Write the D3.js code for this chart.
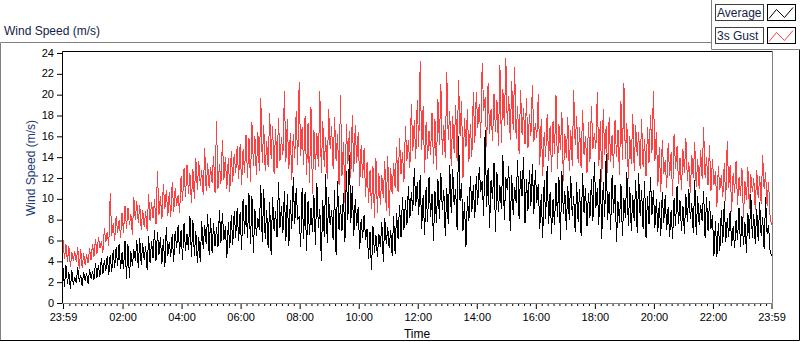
<!DOCTYPE html>
<html lang="en">
<head>
<meta charset="UTF-8">
<title>Wind Speed</title>
<script src="https://d3js.org/d3.v7.min.js"></script>
<style>
body { margin: 0; background: #fff; }
text { font-family: "Liberation Sans", Arial, sans-serif; }
</style>
</head>
<body>
<div id="chart"></div>
<script>
// one sample every 3 minutes, from 23:59 to 23:59 the next day (one row = 2 hours)
var stepMinutes = 3;

var average = [
  3.3,1.5, 3.6,1.8, 2.9,1.3, 3.1,1.7, 2.4,1.9, 3.4,2.0, 2.6,1.6, 2.9,2.1, 2.8,1.8, 3.2,2.3, 3.0,2.2, 3.8,2.4, 3.6,2.5, 4.3,2.7, 4.1,3.0, 4.5,2.6, 4.6,2.9, 5.0,3.3, 5.3,3.5, 5.6,3.2,
  4.8,3.2, 5.9,2.3, 5.6,2.4, 4.9,3.5, 5.1,4.0, 6.0,3.3, 6.2,3.6, 5.7,4.1, 5.4,3.1, 6.4,3.8, 5.9,4.3, 7.0,4.0, 6.8,4.6, 6.3,3.7, 6.1,3.4, 7.2,4.5, 5.8,4.4, 6.6,3.9, 6.9,5.2, 7.4,4.7,
  7.0,4.1, 7.6,4.9, 6.6,5.0, 8.3,4.4, 7.9,4.5, 6.9,3.8, 6.3,3.9, 7.8,5.1, 7.4,5.6, 8.5,4.6, 8.1,4.8, 7.6,5.4, 7.2,5.3, 8.9,5.7, 8.6,6.0, 7.3,4.3, 7.7,5.2, 8.4,5.5, 8.8,6.2, 9.1,5.9,
  8.7,5.0, 9.9,6.6, 9.4,6.2, 10.5,5.6, 10.2,4.8, 9.0,6.4, 8.1,7.0, 11.3,5.8, 10.9,6.1, 8.9,5.2, 9.6,4.6, 10.1,6.9, 8.8,6.3, 11.6,7.2, 9.3,6.7, 10.7,5.9, 10.4,5.4, 9.8,7.1, 12.0,7.5, 11.0,8.0,
  8.2,5.3, 11.0,6.1, 10.6,4.9, 9.7,6.5, 9.1,6.8, 10.3,5.5, 11.5,7.2, 9.0,4.0, 9.8,6.3, 12.3,5.7, 10.1,7.4, 8.9,6.0, 10.8,4.6, 11.7,7.0, 9.4,6.9, 10.5,5.8, 12.6,7.9, 14.2,7.6, 11.2,6.4, 9.9,7.3,
  9.2,5.1, 8.0,6.2, 8.4,6.0, 7.1,4.2, 6.8,3.1, 7.3,4.8, 6.5,4.4, 6.6,5.3, 7.7,3.9, 8.1,5.6, 7.2,5.2, 7.0,4.5, 8.3,4.7, 8.6,6.1, 9.4,6.3, 10.1,7.0, 9.8,7.4, 11.2,8.1, 10.6,8.8, 12.9,9.3,
  11.6,8.4, 12.2,7.1, 10.3,6.5, 11.1,7.7, 12.0,8.2, 10.4,5.9, 10.7,7.6, 11.9,8.0, 12.4,8.9, 10.8,6.4, 11.0,7.5, 13.2,8.6, 12.8,9.4, 10.9,7.0, 16.0,9.7, 11.5,6.9, 9.6,5.3, 10.2,7.8, 12.1,8.7, 11.3,8.1,
  12.1,9.4, 13.0,10.6, 11.7,8.3, 16.6,9.2, 12.9,7.2, 11.8,9.9, 13.4,6.8, 12.5,8.7, 11.3,9.0, 14.2,7.9, 12.0,10.8, 13.1,6.9, 12.2,8.4, 11.1,9.6, 13.7,8.0, 12.6,10.2, 14.0,7.6, 11.9,8.8, 12.7,9.3, 13.3,8.5,
  12.7,9.6, 11.4,7.1, 10.4,6.2, 11.8,8.0, 13.1,7.5, 10.6,6.6, 9.9,7.4, 11.5,8.2, 12.0,6.0, 12.6,8.5, 10.7,7.0, 11.2,7.9, 12.1,8.3, 10.2,6.8, 11.6,7.7, 10.9,6.4, 12.4,8.6, 11.0,7.3, 10.5,8.1, 11.9,7.8,
  13.5,9.1, 11.0,7.4, 12.8,6.1, 11.6,8.2, 14.3,7.9, 10.6,7.0, 12.2,8.6, 11.3,5.8, 9.7,7.6, 11.4,6.4, 10.0,8.1, 12.5,7.3, 11.1,6.9, 10.3,7.8, 11.8,6.7, 12.4,8.3, 10.8,7.1, 11.7,6.2, 10.2,7.5, 12.0,8.4,
  10.8,7.2, 9.9,6.8, 9.6,6.4, 10.6,7.6, 10.3,7.0, 9.2,6.3, 8.9,6.1, 10.0,7.3, 11.2,7.5, 9.8,6.9, 9.3,6.6, 10.4,7.7, 10.9,8.0, 9.5,6.7, 11.8,6.5, 10.2,7.4, 9.4,7.8, 10.7,6.2, 10.1,6.9, 9.7,7.1,
  8.4,4.5, 7.8,4.4, 7.6,4.9, 8.9,5.7, 9.7,5.8, 8.1,6.3, 8.8,5.4, 7.3,5.2, 7.9,6.0, 9.1,5.3, 8.3,5.5, 7.7,4.8, 8.6,6.1, 10.4,6.2, 8.5,5.6, 9.0,5.9, 9.6,6.4, 8.2,5.1, 10.1,6.6, 7.4,5.0,
  4.5
];

var gust = [
  6.0,4.2, 5.6,3.9, 5.4,3.4, 4.8,4.0, 4.9,3.9, 5.3,3.2, 5.1,3.3, 4.7,3.6, 4.6,3.8, 5.2,4.1, 5.6,4.4, 6.1,4.7, 6.3,5.2, 5.9,4.8, 7.1,5.8, 6.8,5.4, 10.5,6.4, 7.6,5.9, 8.3,6.7, 7.9,6.2,
  8.6,6.7, 9.3,7.1, 9.1,7.4, 8.5,6.5, 10.1,7.9, 9.7,7.6, 9.4,7.0, 8.9,7.3, 8.8,6.9, 10.4,7.8, 9.6,8.1, 9.9,7.5, 12.6,8.4, 10.2,8.0, 11.4,9.0, 10.8,8.3, 10.6,8.2, 11.6,8.7, 11.0,9.3, 10.3,8.6,
  12.1,9.7, 12.9,10.1, 13.2,10.4, 12.4,9.6, 12.8,9.9, 13.9,10.8, 13.6,11.2, 12.7,10.3, 14.8,10.7, 13.4,11.0, 13.0,11.5, 14.1,10.5, 17.4,10.9, 13.3,11.4, 15.6,11.8, 14.0,10.9, 13.9,10.6, 14.5,11.6, 14.3,12.4, 15.0,11.9,
  15.2,11.3, 14.7,12.4, 16.1,12.0, 15.8,11.6, 17.3,13.1, 16.0,12.2, 16.4,12.6, 19.6,13.4, 17.0,12.6, 15.5,13.0, 18.2,13.8, 16.9,12.3, 16.7,12.9, 17.7,13.6, 15.9,14.2, 20.3,13.5, 17.6,12.8, 16.3,11.8, 16.2,13.9, 18.4,13.2,
  21.2,14.1, 16.8,13.2, 17.9,12.2, 17.2,11.5, 18.8,10.4, 16.6,12.7, 16.3,13.0, 20.3,12.4, 17.4,13.0, 15.9,11.9, 18.6,14.7, 16.9,12.8, 17.8,13.6, 16.2,11.3, 19.9,12.1, 15.4,9.6, 17.1,13.3, 16.5,12.0, 18.0,12.5, 17.0,13.4,
  16.4,11.2, 15.1,12.0, 14.8,10.1, 13.5,9.6, 12.7,9.0, 13.1,8.1, 13.9,8.6, 12.4,9.4, 12.2,10.0, 13.6,8.8, 14.1,8.3, 12.9,10.4, 13.4,11.0, 14.9,10.6, 15.8,12.3, 14.4,11.6, 16.9,13.6, 15.6,12.9, 19.1,14.5, 17.5,13.8,
  19.4,14.9, 23.2,14.6, 18.9,12.4, 17.3,13.8, 16.5,14.2, 18.2,13.3, 17.6,12.7, 19.5,15.1, 21.0,14.2, 17.0,13.9, 22.1,15.6, 18.4,13.1, 17.9,14.4, 19.0,13.6, 21.4,16.0, 19.3,12.0, 17.7,14.9, 18.6,13.5, 17.1,14.0, 20.2,15.3,
  20.2,16.8, 19.1,15.8, 23.0,18.4, 19.7,14.9, 21.1,16.2, 18.6,15.5, 20.0,16.4, 19.4,15.0, 22.8,15.3, 20.5,16.9, 23.5,17.0, 19.8,15.6, 21.3,16.6, 22.6,15.7, 18.9,14.3, 20.4,16.1, 18.7,15.2, 19.6,14.8, 18.1,16.0, 20.9,15.4,
  17.2,15.8, 20.0,13.2, 17.6,12.1, 16.4,14.0, 18.1,13.6, 16.9,12.5, 17.4,14.3, 19.9,12.8, 17.1,14.6, 18.3,11.7, 16.2,13.9, 17.8,12.6, 16.6,13.1, 20.4,15.1, 17.9,13.4, 16.8,12.9, 18.5,14.2, 16.0,12.4, 17.3,13.5, 18.9,14.7,
  16.3,14.7, 20.2,13.1, 17.4,11.6, 18.6,14.2, 16.9,12.4, 17.8,13.5, 16.1,12.9, 17.5,14.0, 16.6,12.2, 19.3,13.7, 21.1,13.8, 17.2,11.9, 16.0,13.3, 18.1,12.6, 17.0,14.1, 16.4,12.8, 17.6,13.0, 15.7,12.1, 16.8,13.4, 18.0,14.4,
  20.3,13.6, 16.4,11.2, 14.9,10.6, 15.6,12.3, 13.7,11.0, 15.3,12.1, 14.4,10.2, 16.2,12.8, 15.0,11.4, 13.9,10.8, 14.7,12.4, 15.8,11.7, 13.5,10.5, 14.2,12.0, 15.4,11.1, 13.8,10.9, 14.6,11.9, 16.8,12.0, 14.0,11.3, 15.1,10.7,
  13.8,11.3, 12.6,9.2, 13.1,10.8, 12.2,10.1, 13.4,9.7, 15.5,11.0, 13.2,8.7, 12.4,10.5, 13.6,9.4, 12.0,10.2, 12.9,8.1, 11.7,9.8, 13.0,9.0, 12.3,10.6, 11.9,8.9, 12.7,10.0, 12.1,9.5, 14.2,10.9, 12.5,9.3, 11.6,8.4,
  7.4
];

var yTicks = [0, 2, 4, 6, 8, 10, 12, 14, 16, 18, 20, 22, 24];
var timeLabels = ["23:59", "02:00", "04:00", "06:00", "08:00", "10:00", "12:00",
                  "14:00", "16:00", "18:00", "20:00", "22:00", "23:59"];
var seriesNames = ["Average", "3s Gust"];
var seriesColors = ["#000000", "#ff4040"];

var W = 800, H = 342;
var plot = {left: 62.5, top: 51.5, right: 772.5, bottom: 303.5};

var svg = d3.select("#chart").append("svg")
    .attr("width", W)
    .attr("height", H);

svg.append("rect").attr("width", W).attr("height", H).attr("fill", "#fff");

// outer panel: light top/left, dark bottom/right
svg.append("path").attr("d", "M 0.5 340.5 L 0.5 42.5 L 712 42.5").attr("fill", "none").attr("stroke", "#808080");
svg.append("path").attr("d", "M 0 340.5 L 799.5 340.5 L 799.5 49").attr("fill", "none").attr("stroke", "#000");

// legend panel
svg.append("path").attr("d", "M 711.5 0 L 711.5 49.5 L 800 49.5").attr("fill", "none").attr("stroke", "#808080");

svg.append("text")
    .attr("x", 4).attr("y", 35)
    .style("font-size", "12px").attr("fill", "#14224a")
    .text("Wind Speed (m/s)");

var x = d3.scaleLinear().domain([0, 1440]).range([63, 771.5]);
var y = d3.scaleLinear().domain([0, 24]).range([302.5, 52.5]);

// plot frame
svg.append("path")
    .attr("d", "M " + plot.left + " " + plot.bottom + " L " + plot.left + " " + plot.top + " L " + plot.right + " " + plot.top)
    .attr("fill", "none").attr("stroke", "#000");
svg.append("path")
    .attr("d", "M " + plot.left + " " + plot.bottom + " L " + plot.right + " " + plot.bottom + " L " + plot.right + " " + plot.top)
    .attr("fill", "none").attr("stroke", "#808080");

// y axis
var yAxis = svg.append("g").attr("transform", "translate(62,0)")
    .call(d3.axisLeft(y).tickValues(yTicks).tickSize(5).tickPadding(3));
yAxis.select(".domain").remove();
yAxis.selectAll("line").attr("stroke", "#000").attr("transform", "translate(0,0.5)");
yAxis.selectAll("text").style("font-size", "11px").attr("fill", "#000")
    .style("font-family", "'Liberation Sans', Arial, sans-serif");

svg.append("text")
    .attr("transform", "translate(31,168) rotate(-90)")
    .attr("text-anchor", "middle")
    .attr("dominant-baseline", "central")
    .style("font-size", "12px").attr("fill", "#1e3a78")
    .text("Wind Speed (m/s)");

// x axis: majors every 2 h (minutes counted from 23:59), minors every 12 min
var majorTicks = d3.range(13).map(function(k) { return k === 0 ? 0 : (k === 12 ? 1440 : 1 + 120 * k); });
var minorTicks = d3.range(1, 120).map(function(k) { return 1 + 12 * k; })
    .filter(function(m) { return (m - 1) % 120 !== 0; });

var xMinor = svg.append("g").attr("transform", "translate(0,304)")
    .call(d3.axisBottom(x).tickValues(minorTicks).tickSize(2).tickFormat(""));
xMinor.select(".domain").remove();

var xMajor = svg.append("g").attr("transform", "translate(0,304)")
    .call(d3.axisBottom(x).tickValues(majorTicks).tickSize(5).tickPadding(4)
      .tickFormat(function(d, i) { return timeLabels[i]; }));
xMajor.select(".domain").remove();
xMajor.selectAll("text").style("font-size", "11px").attr("fill", "#000")
    .style("font-family", "'Liberation Sans', Arial, sans-serif");
svg.selectAll(".tick line").attr("stroke", "#000");

svg.append("text")
    .attr("x", 417).attr("y", 338)
    .attr("text-anchor", "middle")
    .style("font-size", "12px").attr("fill", "#000")
    .text("Time");

// series: gust first so the average sits on top, drawn aliased like the original
var line = d3.line()
    .x(function(d, i) { return x(i * stepMinutes); })
    .y(function(d) { return y(d); });

[gust, average].forEach(function(values) {
  var k = values === average ? 0 : 1;
  svg.append("path")
      .datum(values)
      .attr("d", line)
      .attr("fill", "none")
      .attr("stroke", seriesColors[k])
      .attr("stroke-width", 1)
      .attr("shape-rendering", "crispEdges");
});

// legend
var legend = svg.append("g");
seriesNames.forEach(function(name, k) {
  var top = 4.5 + k * 23;
  legend.append("rect").attr("x", 715.5).attr("y", top).attr("width", 48).attr("height", 16)
      .attr("fill", "#fff").attr("stroke", "#404040");
  legend.append("text").attr("x", 717).attr("y", top + 12.5)
      .style("font-size", "12px").attr("fill", "#14224a").text(name);
  legend.append("rect").attr("x", 767.5).attr("y", top).attr("width", 28).attr("height", 16)
      .attr("fill", "#fff").attr("stroke", "#000");
  legend.append("path")
      .attr("d", "M 769 " + (top + 14) + " L 776.5 " + (top + 5) + " L 784.5 " + (top + 13) + " L 793 " + (top + 3))
      .attr("fill", "none").attr("stroke", seriesColors[k]);
});
</script>
</body>
</html>
